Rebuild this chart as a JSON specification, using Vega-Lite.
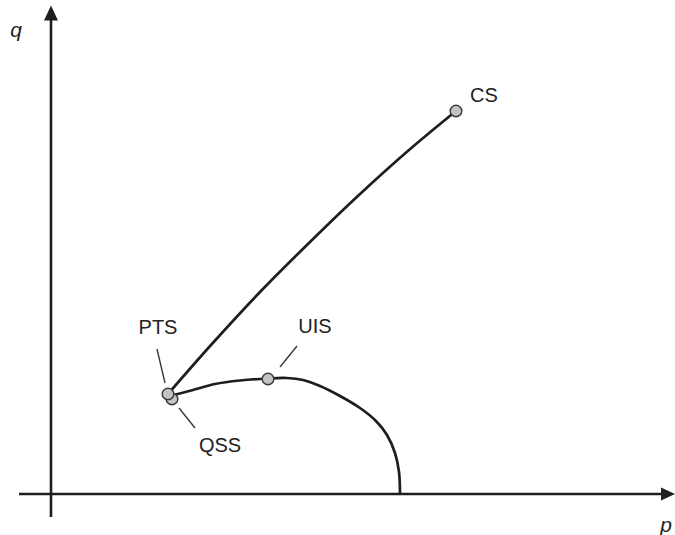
{
  "$schema": "https://vega.github.io/schema/vega-lite/v6.json",
  "width": 675,
  "height": 535,
  "padding": 0,
  "autosize": {"type": "none"},
  "background": "white",
  "config": {"view": {"stroke": null}},
  "datasets": {
    "axes": [
      {"name": "q-axis", "p": 0, "q": -23, "p2": 0, "q2": 474},
      {"name": "p-axis", "p": -32, "q": 0, "p2": 611, "q2": 0}
    ],
    "heads": [
      {"name": "q-head", "p": 0, "q": 481, "dir": "up"},
      {"name": "p-head", "p": 617, "q": 0, "dir": "right"}
    ],
    "paths": [
      {"path": "stress", "i": 0, "p": 117, "q": 100},
      {"path": "stress", "i": 1, "p": 160, "q": 149},
      {"path": "stress", "i": 2, "p": 209, "q": 202},
      {"path": "stress", "i": 3, "p": 260, "q": 253},
      {"path": "stress", "i": 4, "p": 309, "q": 300},
      {"path": "stress", "i": 5, "p": 358, "q": 344},
      {"path": "stress", "i": 6, "p": 405, "q": 383},
      {"path": "envelope", "i": 0, "p": 119, "q": 98},
      {"path": "envelope", "i": 1, "p": 142, "q": 104},
      {"path": "envelope", "i": 2, "p": 164, "q": 110},
      {"path": "envelope", "i": 3, "p": 189, "q": 113.5},
      {"path": "envelope", "i": 4, "p": 217, "q": 115.5},
      {"path": "envelope", "i": 5, "p": 236, "q": 116},
      {"path": "envelope", "i": 6, "p": 252, "q": 114},
      {"path": "envelope", "i": 7, "p": 269, "q": 108},
      {"path": "envelope", "i": 8, "p": 289, "q": 98},
      {"path": "envelope", "i": 9, "p": 309, "q": 86},
      {"path": "envelope", "i": 10, "p": 325, "q": 73},
      {"path": "envelope", "i": 11, "p": 336, "q": 59},
      {"path": "envelope", "i": 12, "p": 344, "q": 41},
      {"path": "envelope", "i": 13, "p": 348, "q": 22},
      {"path": "envelope", "i": 14, "p": 349, "q": 0}
    ],
    "leaders": [
      {"state": "PTS", "p": 106, "q": 145, "p2": 114, "q2": 111},
      {"state": "QSS", "p": 128, "q": 86, "p2": 144, "q2": 66},
      {"state": "UIS", "p": 246, "q": 148, "p2": 229, "q2": 127}
    ],
    "states": [
      {"state": "QSS", "p": 121, "q": 95},
      {"state": "PTS", "p": 117, "q": 100},
      {"state": "UIS", "p": 217, "q": 115},
      {"state": "CS", "p": 405, "q": 383}
    ],
    "labels": [
      {"text": "PTS", "p": 107, "q": 166},
      {"text": "QSS", "p": 169, "q": 48},
      {"text": "UIS", "p": 264, "q": 167},
      {"text": "CS", "p": 433, "q": 398}
    ],
    "axisLabels": [
      {"text": "q", "p": -35, "q": 463},
      {"text": "p", "p": 615, "q": -32}
    ]
  },
  "encoding": {
    "x": {"type": "quantitative", "scale": {"domain": [-51, 624], "zero": false, "nice": false}, "axis": null},
    "y": {"type": "quantitative", "scale": {"domain": [-41, 494], "zero": false, "nice": false}, "axis": null}
  },
  "layer": [
    {
      "data": {"name": "axes"},
      "mark": {"type": "rule", "color": "#1e1e1e", "strokeWidth": 2.6},
      "encoding": {
        "x": {"field": "p"}, "y": {"field": "q"},
        "x2": {"field": "p2"}, "y2": {"field": "q2"}
      }
    },
    {
      "data": {"name": "heads"},
      "transform": [{"filter": "datum.dir === 'up'"}],
      "mark": {"type": "point", "shape": "M0,-1L0.93,1L-0.93,1Z", "size": 225, "filled": true, "color": "#1e1e1e", "opacity": 1},
      "encoding": {"x": {"field": "p"}, "y": {"field": "q"}}
    },
    {
      "data": {"name": "heads"},
      "transform": [{"filter": "datum.dir === 'right'"}],
      "mark": {"type": "point", "shape": "M1,0L-1,0.93L-1,-0.93Z", "size": 196, "filled": true, "color": "#1e1e1e", "opacity": 1},
      "encoding": {"x": {"field": "p"}, "y": {"field": "q"}}
    },
    {
      "data": {"name": "leaders"},
      "mark": {"type": "rule", "color": "#3a3a3a", "strokeWidth": 1.4},
      "encoding": {
        "x": {"field": "p"}, "y": {"field": "q"},
        "x2": {"field": "p2"}, "y2": {"field": "q2"}
      }
    },
    {
      "data": {"name": "paths"},
      "mark": {"type": "line", "interpolate": "catmull-rom", "color": "#1e1e1e", "strokeWidth": 2.7},
      "encoding": {
        "x": {"field": "p"}, "y": {"field": "q"},
        "detail": {"field": "path"},
        "order": {"field": "i", "type": "quantitative"}
      }
    },
    {
      "data": {"name": "states"},
      "mark": {"type": "point", "shape": "circle", "size": 135, "filled": true, "fill": "#c3c3c3", "stroke": "#3a3a3a", "strokeWidth": 1.4, "opacity": 1},
      "encoding": {"x": {"field": "p"}, "y": {"field": "q"}}
    },
    {
      "data": {"name": "labels"},
      "mark": {"type": "text", "font": "Liberation Sans", "fontSize": 20, "color": "#222222", "align": "center", "baseline": "middle"},
      "encoding": {"x": {"field": "p"}, "y": {"field": "q"}, "text": {"field": "text"}}
    },
    {
      "data": {"name": "axisLabels"},
      "mark": {"type": "text", "font": "Liberation Sans", "fontStyle": "italic", "fontSize": 21, "color": "#222222", "align": "center", "baseline": "middle"},
      "encoding": {"x": {"field": "p"}, "y": {"field": "q"}, "text": {"field": "text"}}
    }
  ]
}
